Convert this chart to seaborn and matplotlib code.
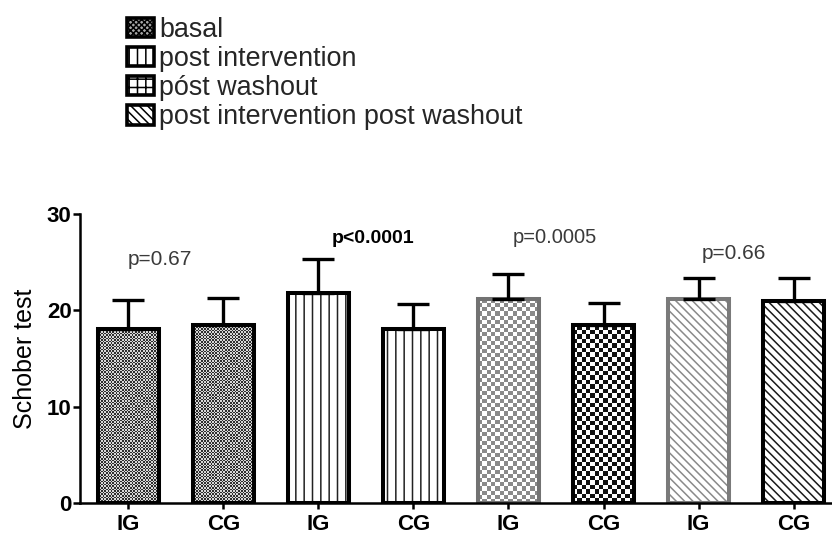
import numpy as np
import pandas as pd
import matplotlib
matplotlib.use("Agg")
import matplotlib.pyplot as plt
import seaborn as sns
from matplotlib.patches import Rectangle, Patch
from matplotlib.colors import ListedColormap

# ---- data ----
groups = ["IG", "CG", "IG", "CG", "IG", "CG", "IG", "CG"]
conditions = ["basal", "basal",
              "post intervention", "post intervention",
              "póst washout", "póst washout",
              "post intervention post washout", "post intervention post washout"]
means = [18.1, 18.45, 21.8, 18.1, 21.15, 18.45, 21.2, 21.0]
sds = [3.0, 2.8, 3.5, 2.55, 2.6, 2.35, 2.15, 2.35]
p_labels = ["p=0.67", "p<0.0001", "p=0.0005", "p=0.66"]
legend_labels = ["basal", "post intervention", "póst washout",
                 "post intervention post washout"]
yticks = [0, 10, 20, 30]
ylabel = "Schober test"

# ---- style ----
sns.set_theme(style="ticks")
plt.rcParams["font.family"] = ["Liberation Sans", "DejaVu Sans"]
plt.rcParams["hatch.linewidth"] = 1.1

keys = [f"{c}|{g}|{i}" for i, (c, g) in enumerate(zip(conditions, groups))]
df = pd.DataFrame({"key": keys, "group": groups, "condition": conditions,
                   "mean": means, "sd": sds})

edge_cols = ["#000000", "#000000", "#000000", "#000000",
             "#727272", "#000000", "#7a7a7a", "#000000"]
hatches = [None, None, "||", "||", None, None, "\\\\\\\\", "\\\\\\\\"]
hatch_cols = ["#000000", "#000000", "#222222", "#222222",
              "#000000", "#000000", "#8a8a8a", "#1a1a1a"]
# checker textures: (cell px, light, dark)
checkers = {0: (1.6, "#d8d8d8", "#2e2e2e"), 1: (1.6, "#d8d8d8", "#2e2e2e"),
            4: (4.2, "#ffffff", "#8a8a8a"), 5: (4.5, "#ffffff", "#111111")}

fig = plt.figure(figsize=(8.32, 5.38), dpi=100)
ax = fig.add_axes([80 / 832, 35 / 538, 752 / 832, 289 / 538])

sns.barplot(data=df, x="key", y="mean", order=keys, hue="key",
            palette=["#ffffff"] * 8, legend=False, width=0.64,
            errorbar=None, saturation=1, ax=ax)

XL = (-0.51, 7.405)
YL = (0, 30)
ax.set_xlim(*XL)
ax.set_ylim(*YL)

bars = sorted([p for p in ax.patches], key=lambda p: p.get_x())
for i, p in enumerate(bars):
    p.set_linewidth(0)
    p.set_facecolor("white")
    if hatches[i]:
        p.set_hatch(hatches[i])
        p.set_edgecolor(hatch_cols[i])
    else:
        p.set_edgecolor("white")
    p.set_zorder(1)

for i, (cell, c0, c1) in checkers.items():
    p = bars[i]
    x0, x1 = p.get_x(), p.get_x() + p.get_width()
    h = p.get_height()
    px0, py0 = ax.transData.transform((x0, 0))
    px1, py1 = ax.transData.transform((x1, h))
    nx = max(1, int(round((px1 - px0) / cell)))
    ny = max(1, int(round((py1 - py0) / cell)))
    arr = np.indices((ny, nx)).sum(axis=0) % 2
    im = ax.imshow(arr, cmap=ListedColormap([c0, c1]), extent=(x0, x1, 0, h),
                   origin="lower", interpolation="nearest", aspect="auto",
                   zorder=1.5)
    im.set_clip_path(p)

for i, p in enumerate(bars):
    ax.add_patch(Rectangle((p.get_x(), 0), p.get_width(), p.get_height(),
                           fill=False, edgecolor=edge_cols[i], linewidth=2.9,
                           joinstyle="miter", zorder=2))

xc = [p.get_x() + p.get_width() / 2 for p in bars]
ax.errorbar(xc, means, yerr=[np.zeros(len(sds)), sds], fmt="none",
            ecolor="black", elinewidth=2.4, capsize=11.5, capthick=2.4,
            zorder=3)

ax.set_xlim(*XL)
ax.set_ylim(*YL)
ax.set_aspect("auto")

# axes styling
sns.despine(ax=ax)
for s in ["left", "bottom"]:
    ax.spines[s].set_linewidth(1.8)
    ax.spines[s].set_color("black")
ax.set_xticks(range(len(groups)))
ax.set_xticklabels(groups, fontsize=16, fontweight="bold")
ax.set_yticks(yticks)
ax.set_yticklabels([str(t) for t in yticks], fontsize=16, fontweight="bold")
ax.tick_params(axis="y", length=5, width=1.8, pad=1, colors="black")
ax.tick_params(axis="x", length=4.5, width=1.8, pad=3.3, colors="black")
ax.set_xlabel("")
ax.set_ylabel(ylabel, fontsize=18, color="black")
ax.yaxis.set_label_coords(-0.057, 0.5)

# p-value annotations
p_pos = [(0.33, 24.7), (2.574, 26.95), (4.484, 27.0), (6.368, 25.3)]
p_weight = ["normal", "bold", "normal", "normal"]
p_size = [15, 14, 14.5, 15]
p_color = ["#3a3a3a", "black", "#3a3a3a", "#3a3a3a"]
for lab, (x, y), w, s, c in zip(p_labels, p_pos, p_weight, p_size, p_color):
    ax.text(x, y, lab, ha="center", va="baseline", fontsize=s,
            fontweight=w, color=c)

# legend
leg_hatch = ["xxxxxx", "||", "++", "\\\\\\\\"]
leg_face = ["#a8a8a8", "white", "white", "white"]
handles = [Patch(facecolor=f, edgecolor="black", hatch=h, linewidth=2.6,
                 label=l) for f, h, l in zip(leg_face, leg_hatch, legend_labels)]
fig.legend(handles=handles, loc="upper left",
           bbox_to_anchor=(124 / 832, 1.0 - 14 / 538), frameon=False,
           fontsize=19.4, handlelength=1.0, handleheight=0.72,
           handletextpad=0.2, labelspacing=0.12, borderpad=0.1,
           borderaxespad=0)

fig.savefig("out.png", dpi=100)
